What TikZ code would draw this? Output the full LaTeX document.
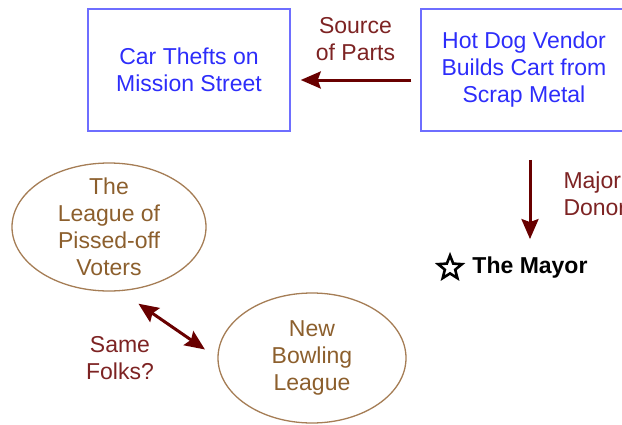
\documentclass[tikz,border=0pt]{standalone}
\usepackage{fontspec}
\setmainfont{Liberation Sans}
\usetikzlibrary{shapes, arrows.meta, positioning, calc}

\definecolor{boxblue}{RGB}{110,110,255}
\definecolor{textblue}{RGB}{45,45,250}
\definecolor{arrowred}{RGB}{105,0,0}
\definecolor{labelred}{RGB}{125,35,35}
\definecolor{ovalbrown}{RGB}{165,125,85}
\definecolor{textbrown}{RGB}{140,95,45}

\begin{document}
\begin{tikzpicture}[
        x=1pt, y=-1pt,
        every node/.style={font=\fontsize{23}{27}\selectfont, align=center, inner sep=2pt},
        box/.style={draw=boxblue, line width=1.5pt, text=textblue, minimum width=202pt, minimum height=122pt},
        oval/.style={draw=ovalbrown, line width=1.3pt, ellipse, text=textbrown, inner sep=-20pt},
        lbl/.style={text=labelred},
        >={Stealth[length=20pt, width=17pt, inset=3pt]},
        arr/.style={->, arrowred, line width=3pt}
    ]
        \useasboundingbox (0,0) rectangle (622,424);

        % Boxes
        \node[box] (thefts) at (189,70) {Car Thefts on\\Mission Street};
        \node[box, minimum width=206pt] (hotdog) at (524,70) {Hot Dog Vendor\\Builds Cart from\\Scrap Metal};

        % Mayor
        \node[font=\fontsize{23}{27}\selectfont\bfseries] (mayor) at (530,268) {The Mayor};
        \node[star, star points=5, star point ratio=2.3, draw, line width=2.6pt, minimum size=25pt, inner sep=0pt, left=11pt of mayor] (star) {};

        % Ovals
        \node[oval, minimum width=194pt, minimum height=128pt] (voters) at (109,227) {The\\League of\\Pissed-off\\Voters};
        \node[oval, minimum width=188pt, minimum height=130pt] (bowling) at (312,358) {New\\Bowling\\League};

        % Connections
        \draw[arr, shorten <=9pt, shorten >=10pt] ([yshift=-10pt]hotdog.west) -- ([yshift=-10pt]thefts.east)
            node[lbl, midway, above=16pt] {Source\\of Parts};
        \draw[arr, shorten <=28pt, shorten >=16pt] (hotdog.south -| mayor.north) -- (mayor.north)
            node[lbl, midway, right=30pt, align=left] {Major\\Donor};
        \draw[arr, <->, shorten <=22pt, shorten >=15pt] (voters.-80) -- (bowling.west);

        \node[lbl] (folks) at (120,358) {Same\\Folks?};
    \end{tikzpicture}
\end{document}
